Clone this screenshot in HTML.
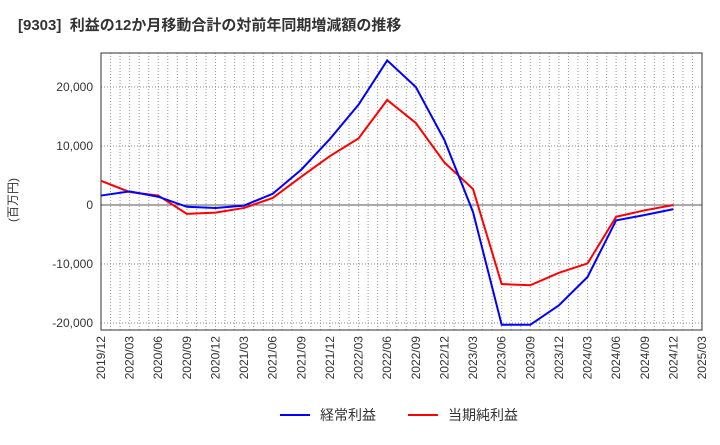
<!DOCTYPE html>
<html><head><meta charset="utf-8"><style>
body{margin:0;background:#fff;font-family:"Liberation Sans","Noto Sans CJK JP",sans-serif}
</style></head><body>
<svg id="c" width="720" height="440" xmlns="http://www.w3.org/2000/svg">
<text x="18" y="30" font-size="15" font-weight="bold" fill="#333">[9303]&#160;&#160;利益の12か月移動合計の対前年同期増減額の推移</text>
<text transform="translate(17,200) rotate(-90)" text-anchor="middle" font-size="12" fill="#333">(百万円)</text>
<g id="grid"></g><g id="axes"></g><g id="series"></g>
<g>
<line x1="280" y1="415" x2="310" y2="415" stroke="#0000ff" stroke-width="2"/>
<text x="320" y="420" font-size="14" fill="#333">経常利益</text>
<line x1="408" y1="415" x2="438" y2="415" stroke="#ff0000" stroke-width="2"/>
<text x="448" y="420" font-size="14" fill="#333">当期純利益</text>
</g>
</svg>
<script>
const xLabels=["2019/12","2020/03","2020/06","2020/09","2020/12","2021/03","2021/06","2021/09","2021/12","2022/03","2022/06","2022/09","2022/12","2023/03","2023/06","2023/09","2023/12","2024/03","2024/06","2024/09","2024/12","2025/03"];
const yTicks=[-20000,-10000,0,10000,20000];
const keijo=[1600,2300,1400,-300,-500,-100,1900,6000,11200,17000,24500,20000,11000,-1200,-20300,-20300,-17000,-12200,-2600,-1700,-700];
const junri=[4100,2200,1600,-1500,-1300,-500,1200,4800,8300,11300,17800,13900,7200,2700,-13400,-13600,-11500,-9900,-2000,-900,0];
const L=101,R=702,T=53,B=330;
const X=i=>L+i*(R-L)/(xLabels.length-1);
const Y=v=>205-v*59/10000;
const NS="http://www.w3.org/2000/svg";
function mk(p,t,a){const e=document.createElementNS(NS,t);for(const k in a)e.setAttribute(k,a[k]);document.getElementById(p).appendChild(e);return e;}
const nMonths=(xLabels.length-1)*3;
for(let m=1;m<nMonths;m++){const x=L+m*(R-L)/nMonths;
const g=mk("grid","line",{x1:x,x2:x,y1:T,y2:B,stroke:"#999","stroke-width":1,"stroke-dasharray":"1,2"});

}
yTicks.forEach(v=>{const y=Y(v);
const g=mk("grid","line",{x1:L,x2:R,y1:y,y2:y,stroke:v===0?"#555":"#888","stroke-width":1,"stroke-dasharray":v===0?"":"1,2"});


const t=mk("axes","text",{x:L-8,y:y+4,"text-anchor":"end","font-size":12,fill:"#333"});
t.textContent=v.toLocaleString("en-US");

});
const f=mk("axes","rect",{x:L,y:T,width:R-L,height:B-T,fill:"none",stroke:"#333","stroke-width":1});


xLabels.forEach((s,i)=>{const x=X(i);
const t=mk("axes","text",{transform:`translate(${x+4},${B+6}) rotate(-90)`,"text-anchor":"end","font-size":12,fill:"#333"});
t.textContent=s;

});
function line(d,c,n){const p=mk("series","polyline",{points:d.map((v,i)=>X(i)+","+Y(v)).join(" "),fill:"none",stroke:c,"stroke-width":2});

}
line(junri,"#ff0000","series-junri-line");
line(keijo,"#0000ff","series-keijo-line");
</script>
</body></html>
